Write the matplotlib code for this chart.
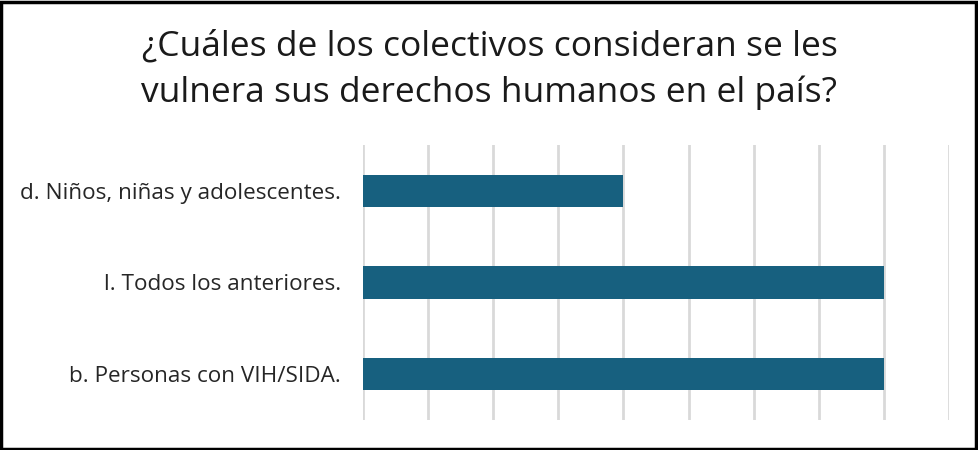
import matplotlib
matplotlib.use("Agg")
import matplotlib.pyplot as plt
from matplotlib.patches import Rectangle

categories = ["b. Personas con VIH/SIDA.", "l. Todos los anteriores.", "d. Niños, niñas y adolescentes."]
values = [8, 8, 4]
title_lines = ["¿Cuáles de los colectivos consideran se les", "vulnera sus derechos humanos en el país?"]

W, H = 979, 450
fig = plt.figure(figsize=(W / 100, H / 100), dpi=100)
ax = fig.add_axes([363 / W, 1 - 420 / H, (949 - 363) / W, (420 - 145) / H])

ax.barh(range(len(categories)), values, height=0.35, color="#17607f", zorder=3)
ax.set_xlim(0, 9)
ax.set_ylim(-0.5, 2.5)
ax.set_xticks(range(0, 10))
ax.xaxis.grid(True, color="#d9d9d9", linewidth=2)
ax.tick_params(axis="x", length=0, labelbottom=False)
ax.tick_params(axis="y", length=0, pad=16)
ax.set_yticks(range(len(categories)))
ax.set_yticklabels(categories, fontsize=16.2, color="#262626", family="Open Sans")
for s in ax.spines.values():
    s.set_visible(False)

for i, line in enumerate(title_lines):
    fig.text(0.5, 1 - (47 + 46 * i) / H, line, ha="center", va="center", fontsize=25.5,
             family="Open Sans", color="#1a1a1a")

fig.patches.append(Rectangle((0.0015, 0.003), 0.995, 0.992, transform=fig.transFigure,
                             fill=False, edgecolor="black", linewidth=2.5))

fig.savefig("out.png", dpi=100, facecolor="white")
